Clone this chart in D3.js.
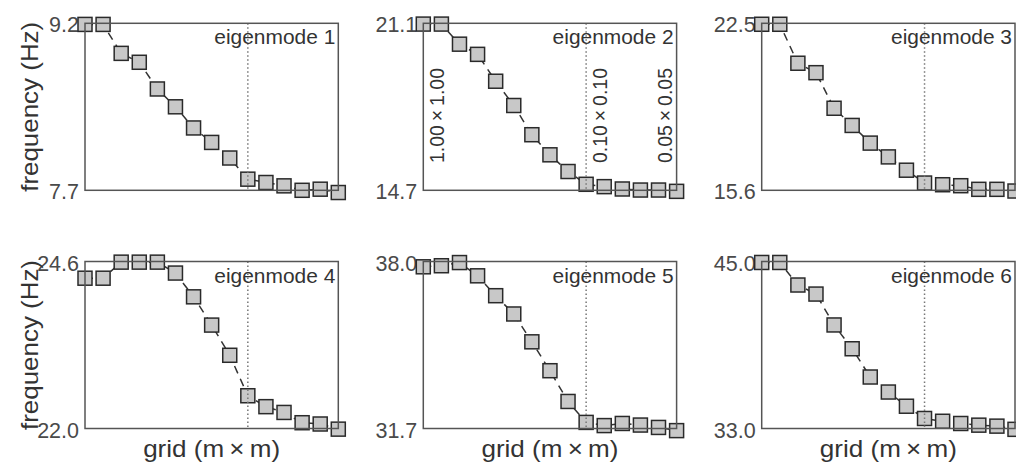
<!DOCTYPE html>
<html>
<head>
<meta charset="utf-8">
<script src="https://cdn.jsdelivr.net/npm/d3@7"></script>
<style>
  body { margin: 0; background: #fff; }
  svg { display: block; font-family: "Liberation Sans", Arial, sans-serif; }
</style>
</head>
<body>
<div id="chart"></div>
<script>
// grid refinement steps (x index), 15 per mode
const gridSteps = d3.range(15);
const refStep = 9; // dotted line, 0.10 x 0.10 grid

const modeNames = ["eigenmode 1", "eigenmode 2", "eigenmode 3", "eigenmode 4", "eigenmode 5", "eigenmode 6"];

const yLimits = [
    [7.7, 9.2], [14.7, 21.1], [15.6, 22.5],
    [22.0, 24.6], [31.7, 38.0], [33.0, 45.0]
];

const mode1 = [9.19, 9.19, 8.93, 8.85, 8.61, 8.45, 8.26, 8.13, 7.99, 7.80, 7.77, 7.74, 7.70, 7.71, 7.68];
const mode2 = [21.07, 21.07, 20.30, 19.91, 18.88, 17.95, 16.83, 16.06, 15.42, 14.93, 14.84, 14.75, 14.71, 14.71, 14.66];
const mode3 = [22.46, 22.46, 20.85, 20.46, 18.99, 18.28, 17.55, 16.98, 16.43, 15.90, 15.83, 15.79, 15.64, 15.64, 15.57];
const mode4 = [24.34, 24.34, 24.59, 24.59, 24.59, 24.42, 24.05, 23.61, 23.14, 22.51, 22.34, 22.25, 22.09, 22.07, 21.99];
const mode5 = [37.80, 37.84, 37.96, 37.46, 36.71, 36.02, 34.97, 33.88, 32.72, 31.93, 31.81, 31.89, 31.83, 31.74, 31.62];
const mode6 = [44.93, 44.93, 43.31, 42.66, 40.44, 38.73, 36.70, 35.62, 34.60, 33.72, 33.52, 33.36, 33.24, 33.17, 32.94];
const modes = [mode1, mode2, mode3, mode4, mode5, mode6];

// grid size annotations in panel 2
const gridLabels = ["1.00\u2009\u00d7\u20091.00", "0.10\u2009\u00d7\u20090.10", "0.05\u2009\u00d7\u20090.05"];
const gridLabelX = [443.5, 606.5, 671.5];

const width = 1016, height = 462;
const colLeft = [85, 423.3, 761.7];
const rowTop = [23.3, 261.5];
const pw = 253.3, ph = 167;

const svg = d3.select("#chart").append("svg")
    .attr("width", width)
    .attr("height", height);

modes.forEach((vals, i) => {
    const col = i % 3, row = Math.floor(i / 3);
    const x0 = colLeft[col], y0 = rowTop[row];

    const x = d3.scaleLinear().domain([0, 14]).range([x0, x0 + pw]);
    const y = d3.scaleLinear().domain(yLimits[i]).range([y0 + ph, y0]);

    const g = svg.append("g");

    // tick labels (only min and max)
    const axis = g.append("g")
        .attr("transform", `translate(${x0},0)`)
        .call(d3.axisLeft(y).tickValues(yLimits[i]).tickSize(0).tickPadding(6).tickFormat(d3.format(".1f")));
    axis.select(".domain").remove();
    axis.selectAll("text")
        .attr("font-size", 21.5)
        .attr("font-family", "Liberation Sans, Arial, sans-serif")
        .attr("fill", "#4a4a4a")
        .attr("dy", "0.4em");

    // dashed connecting line
    const line = d3.line().x((d, j) => x(gridSteps[j])).y(d => y(d));
    g.append("path")
        .datum(vals)
        .attr("d", line)
        .attr("fill", "none")
        .attr("stroke", "#333")
        .attr("stroke-width", 1.5)
        .attr("stroke-dasharray", "8,6");

    // square markers
    g.selectAll("rect.pt")
        .data(vals)
        .enter().append("rect")
        .attr("class", "pt")
        .attr("x", (d, j) => x(gridSteps[j]) - 7)
        .attr("y", d => y(d) - 7)
        .attr("width", 14)
        .attr("height", 14)
        .attr("fill", "#c8c8c8")
        .attr("stroke", "#2a2a2a")
        .attr("stroke-width", 1.5);

    // dotted reference line
    g.append("line")
        .attr("x1", x(refStep)).attr("x2", x(refStep))
        .attr("y1", y0).attr("y2", y0 + ph)
        .attr("stroke", "#777")
        .attr("stroke-width", 1.5)
        .attr("stroke-dasharray", "1.5,2.5");

    // frame
    g.append("rect")
        .attr("x", x0).attr("y", y0)
        .attr("width", pw).attr("height", ph)
        .attr("fill", "none")
        .attr("stroke", "#555")
        .attr("stroke-width", 1.5);

    g.append("text")
        .attr("x", x0 + pw - 3)
        .attr("y", y0 + 21)
        .attr("text-anchor", "end")
        .attr("font-size", 21)
        .attr("textLength", 121)
        .attr("lengthAdjust", "spacingAndGlyphs")
        .attr("fill", "#333")
        .text(modeNames[i]);

    if (col === 0) {
        svg.append("text")
            .attr("transform", `translate(38,${y0 + ph / 2}) rotate(-90)`)
            .attr("text-anchor", "middle")
            .attr("font-size", 24)
            .attr("textLength", 170)
            .attr("lengthAdjust", "spacingAndGlyphs")
            .attr("fill", "#333")
            .text("frequency (Hz)");
    }
    if (row === 1) {
        svg.append("text")
            .attr("x", x0 + pw / 2)
            .attr("y", 457)
            .attr("text-anchor", "middle")
            .attr("font-size", 24)
            .attr("textLength", 137)
            .attr("lengthAdjust", "spacingAndGlyphs")
            .attr("fill", "#333")
            .text("grid (m\u2009\u00d7\u2009m)");
    }
});

// annotations of grid sizes in mode 2 panel
svg.append("g").selectAll("text")
    .data(gridLabels)
    .enter().append("text")
    .attr("transform", (d, j) => `translate(${gridLabelX[j]},163) rotate(-90)`)
    .attr("text-anchor", "start")
    .attr("font-size", 21)
    .attr("textLength", 95)
    .attr("lengthAdjust", "spacingAndGlyphs")
    .attr("fill", "#333")
    .text(d => d);
</script>
</body>
</html>
